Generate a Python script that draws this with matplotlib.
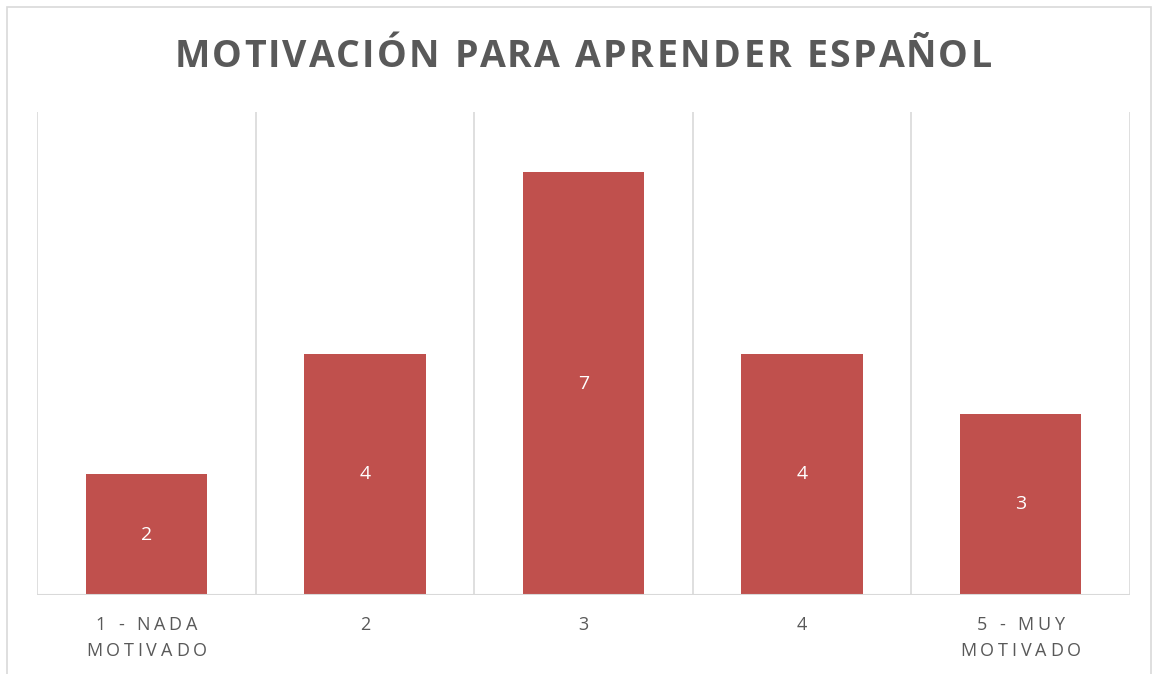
import matplotlib.pyplot as plt
from matplotlib.patches import Rectangle

# Data
categorias = ['1 - NADA\nMOTIVADO', '2', '3', '4', '5 - MUY\nMOTIVADO']
valores = [2, 4, 7, 4, 3]
titulo = 'MOTIVACIÓN PARA APRENDER ESPAÑOL'

W, H = 1153, 674
plt.rcParams['font.family'] = ['Open Sans', 'DejaVu Sans']

fig = plt.figure(figsize=(W / 100, H / 100), dpi=100)
ax = fig.add_axes([37 / W, 1 - 595 / H, (1130 - 37) / W, (595 - 112) / H])

x = list(range(len(valores)))
bars = ax.bar(x, valores, width=0.555, color='#C0504D', zorder=3)
ax.set_xlim(-0.5, len(valores) - 0.5)
ax.set_ylim(0, 8)

# vertical separators between categories
for xv in [i - 0.5 for i in range(len(valores) + 1)]:
    ax.axvline(xv, color='#D9D9D9', lw=1.2, zorder=1)
for s in ax.spines.values():
    s.set_visible(False)
ax.axhline(0, color='#D9D9D9', lw=1.5, zorder=4)
ax.set_xticks([])
ax.set_yticks([])

# data labels
for b, v in zip(bars, valores):
    ax.text(b.get_x() + b.get_width() / 2, v / 2, str(v), ha='center', va='center',
            color='white', fontsize=14, zorder=5)

# chart border
fig.patches.append(Rectangle((7 / W, -0.01), (1151 - 7) / W, 1 - 6.5 / H + 0.01,
                             transform=fig.transFigure, fill=False,
                             edgecolor='#D9D9D9', lw=1.2))

fig.canvas.draw()
renderer = fig.canvas.get_renderer()


def text_width(s, **kw):
    t = fig.text(0, 0, s + '|', **kw)
    w1 = t.get_window_extent(renderer).width
    t.set_text('|')
    w2 = t.get_window_extent(renderer).width
    t.remove()
    return w1 - w2


def spaced_text(cx, base_y, s, spacing, **kw):
    # cx, base_y in pixels from top-left
    total = text_width(s, **kw) + spacing * (len(s) - 1)
    left = cx - total / 2
    for i, ch in enumerate(s):
        if ch == ' ':
            continue
        px = left + text_width(s[:i], **kw) + spacing * i
        fig.text(px / W, 1 - base_y / H, ch, ha='left', va='baseline', **kw)


spaced_text(583, 67, titulo, 2.5, fontsize=27, fontweight='bold', color='#595959')

for i, lab in enumerate(categorias):
    cx = ax.transData.transform((x[i], 0))[0]
    for j, line in enumerate(lab.split('\n')):
        spaced_text(cx, 630 + j * 26, line, 3.8, fontsize=13, color='#595959')

fig.savefig('out.png', dpi=100)
